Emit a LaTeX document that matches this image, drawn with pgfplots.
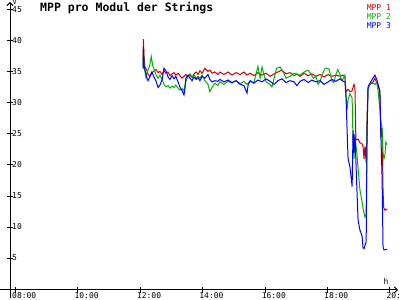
\documentclass[border=0pt]{standalone}
\usepackage{pgfplots}
\pgfplotsset{compat=1.18}
\usetikzlibrary{arrows.meta}
\usepackage{fontspec}
\setmainfont{DejaVu Sans Mono}
\definecolor{mppred}{RGB}{204,0,0}
\definecolor{mppgreen}{RGB}{0,176,0}
\definecolor{mppblue}{RGB}{0,0,255}
\begin{document}
\begin{tikzpicture}
\begin{axis}[
  scale only axis, width=388pt, height=288pt,
  at={(0pt,0pt)}, anchor=south west,
  xmin=7.824, xmax=20.26, ymin=-0.16, ymax=46.29,
  axis lines=left,
  axis line style={black, line width=1pt, -{Straight Barb[length=3pt,width=6pt]}},
  xtick={8,10,12,14,16,18,20},
  xticklabels={08:00,10:00,12:00,14:00,16:00,18:00,20:00},
  ytick={5,10,15,20,25,30,35,40,45},
  tick align=center, major tick length=6pt,
  tick style={black, line width=1pt},
  /pgf/number format/assume math mode=true,
  ticklabel style={font=\fontsize{8}{8}\selectfont, inner sep=0pt},
  yticklabel style={anchor=west, xshift=5pt},
  xticklabel style={anchor=north west, xshift=-3.5pt, yshift=1pt},
  every axis x label/.style={at={(rel axis cs:0.969,0.031)}, anchor=center, font=\fontsize{8}{8}\selectfont},
  every axis y label/.style={at={(rel axis cs:0.012,1.0)}, anchor=center, font=\fontsize{7}{7}\selectfont},
  xlabel={h}, ylabel={V},
  legend style={at={(rel axis cs:0.99,1.0)}, anchor=north east, draw=none, fill=none,
    font=\fontsize{8}{8}\selectfont, row sep=1.6pt, nodes={inner sep=0pt}},
  legend cell align=right,
  legend image code/.code={},
]
\addplot[mppred, line width=1pt] coordinates {
(12.09,37.0) (12.10,40.3) (12.12,37.5) (12.15,35.8) (12.21,35.3) (12.25,34.6) (12.31,34.3) (12.37,34.8) (12.44,35.2) (12.50,35.4) (12.57,34.9) (12.63,35.1) (12.70,34.6) (12.76,35.2) (12.82,34.8) (12.89,35.0) (12.95,34.4) (13.02,34.7) (13.08,34.9) (13.14,34.5) (13.21,34.8) (13.27,34.4) (13.34,34.0) (13.40,34.3) (13.46,34.6) (13.53,34.2) (13.59,34.5) (13.66,34.1) (13.72,34.7) (13.79,35.0) (13.85,34.6) (13.91,35.2) (13.98,34.8) (14.07,35.6) (14.17,35.1) (14.23,35.3) (14.30,34.8) (14.39,35.0) (14.49,34.6) (14.55,35.0) (14.68,34.6) (14.81,35.0) (14.94,34.5) (15.07,34.9) (15.20,34.6) (15.32,35.0) (15.42,34.5) (15.52,34.8) (15.64,34.4) (15.77,34.9) (15.90,34.5) (16.03,34.8) (16.16,34.3) (16.29,34.7) (16.41,35.0) (16.54,35.3) (16.67,34.7) (16.80,34.9) (16.93,34.4) (17.02,34.7) (17.12,34.3) (17.25,34.8) (17.38,34.4) (17.50,34.7) (17.63,34.3) (17.76,34.6) (17.89,34.2) (18.02,34.6) (18.14,34.3) (18.27,34.5) (18.40,34.3) (18.50,34.5) (18.56,34.2) (18.59,31.8) (18.66,32.2) (18.72,31.8) (18.79,32.0) (18.85,33.0) (18.88,32.5) (18.91,24.0) (18.98,24.2) (19.04,23.6) (19.11,23.4) (19.14,23.0) (19.17,21.0) (19.20,23.0) (19.24,20.3) (19.27,28.0) (19.30,32.4) (19.36,33.0) (19.46,33.4) (19.52,34.0) (19.58,33.2) (19.62,33.0) (19.68,31.5) (19.71,24.5) (19.75,26.0) (19.78,16.0) (19.80,13.2) (19.84,12.7) (19.91,12.9)
};
\addlegendentry{\textcolor{mppred}{MPP 1}}
\addplot[mppgreen, line width=1pt] coordinates {
(12.09,36.0) (12.10,38.5) (12.12,36.2) (12.15,35.0) (12.18,34.2) (12.21,34.8) (12.25,35.3) (12.31,36.2) (12.35,37.5) (12.40,36.0) (12.44,35.5) (12.50,34.6) (12.57,34.0) (12.63,34.5) (12.70,33.8) (12.76,33.0) (12.82,32.6) (12.89,32.8) (12.95,32.4) (13.02,32.7) (13.08,32.5) (13.14,32.9) (13.21,32.4) (13.27,32.1) (13.34,32.3) (13.40,32.0) (13.46,33.5) (13.53,34.3) (13.59,34.7) (13.66,34.2) (13.72,34.6) (13.79,34.0) (13.85,34.3) (13.91,34.0) (13.98,34.5) (14.07,33.6) (14.17,33.0) (14.23,31.8) (14.30,32.5) (14.39,33.2) (14.49,32.8) (14.55,33.4) (14.68,33.0) (14.81,33.5) (14.94,33.2) (15.07,33.6) (15.20,33.1) (15.32,33.5) (15.42,33.0) (15.52,33.5) (15.64,33.2) (15.77,35.9) (15.84,34.0) (15.90,35.8) (15.97,34.5) (16.03,33.4) (16.16,33.0) (16.22,32.6) (16.29,34.0) (16.37,35.6) (16.48,35.8) (16.58,35.0) (16.67,34.0) (16.80,34.3) (16.93,34.8) (17.02,34.6) (17.12,34.5) (17.25,35.0) (17.38,35.3) (17.45,34.8) (17.55,34.0) (17.63,34.3) (17.70,33.0) (17.76,33.4) (17.82,34.5) (17.93,35.6) (18.05,35.5) (18.14,33.6) (18.20,33.3) (18.27,34.6) (18.33,35.4) (18.40,34.6) (18.45,33.7) (18.50,33.9) (18.56,34.5) (18.59,31.6) (18.63,28.9) (18.66,30.5) (18.72,31.5) (18.79,30.8) (18.82,23.5) (18.85,21.0) (18.88,24.5) (18.94,22.0) (18.98,19.5) (19.04,16.0) (19.11,14.0) (19.14,13.0) (19.20,11.6) (19.24,12.0) (19.27,26.5) (19.30,32.3) (19.36,33.0) (19.46,33.2) (19.52,33.0) (19.58,33.3) (19.62,32.0) (19.68,29.0) (19.71,27.0) (19.75,26.0) (19.78,22.0) (19.81,21.0) (19.84,21.5) (19.87,23.7) (19.91,23.3)
};
\addlegendentry{\textcolor{mppgreen}{MPP 2}}
\addplot[mppblue, line width=1pt] coordinates {
(12.09,35.5) (12.10,39.1) (12.12,36.0) (12.15,35.4) (12.18,34.8) (12.21,34.0) (12.25,33.6) (12.31,34.3) (12.37,35.0) (12.44,34.2) (12.50,33.6) (12.57,32.5) (12.63,32.9) (12.70,33.8) (12.76,35.6) (12.82,35.2) (12.89,34.2) (12.95,33.8) (13.02,34.4) (13.08,33.9) (13.14,34.3) (13.21,33.4) (13.27,32.6) (13.34,32.0) (13.40,31.3) (13.43,32.2) (13.46,34.0) (13.53,34.5) (13.59,34.0) (13.66,33.6) (13.72,34.2) (13.79,33.8) (13.85,34.1) (13.91,33.6) (13.98,34.3) (14.07,34.0) (14.17,34.6) (14.23,33.8) (14.30,33.4) (14.39,33.6) (14.49,33.5) (14.55,33.8) (14.68,33.4) (14.81,33.7) (14.94,33.3) (15.07,33.6) (15.20,33.0) (15.32,32.8) (15.42,31.6) (15.46,33.0) (15.52,33.6) (15.64,33.2) (15.77,33.7) (15.90,33.4) (16.03,33.9) (16.16,33.5) (16.29,33.0) (16.41,33.6) (16.54,33.9) (16.67,33.3) (16.80,33.6) (16.93,33.4) (17.02,32.8) (17.12,33.5) (17.25,33.8) (17.38,33.3) (17.50,33.7) (17.63,33.4) (17.76,33.6) (17.89,33.0) (18.02,33.4) (18.14,33.8) (18.27,33.5) (18.40,33.9) (18.50,33.5) (18.56,33.4) (18.59,31.5) (18.63,25.4) (18.66,21.0) (18.72,19.7) (18.79,16.5) (18.82,25.6) (18.85,22.0) (18.88,25.0) (18.94,16.5) (18.98,11.1) (19.04,9.5) (19.11,8.5) (19.14,6.6) (19.17,6.5) (19.24,7.6) (19.27,25.6) (19.30,32.6) (19.36,33.2) (19.46,34.0) (19.52,34.5) (19.58,33.8) (19.62,33.0) (19.68,32.0) (19.71,25.0) (19.75,18.0) (19.78,6.8) (19.81,6.3) (19.91,6.4)
};
\addlegendentry{\textcolor{mppblue}{MPP 3}}
\end{axis}
\draw[black, line width=1pt] (0pt,0pt) -- (0pt,-8pt);
\draw[black, line width=1pt] (0pt,0pt) -- (-10pt,0pt);
\node[anchor=west, inner sep=0pt, font=\fontsize{11.5}{11.5}\selectfont\bfseries] at (30pt,282pt) {MPP pro Modul der Strings};
\pgfresetboundingbox
\path[use as bounding box] (-10pt,-10pt) rectangle (390pt,290pt);
\end{tikzpicture}
\end{document}
